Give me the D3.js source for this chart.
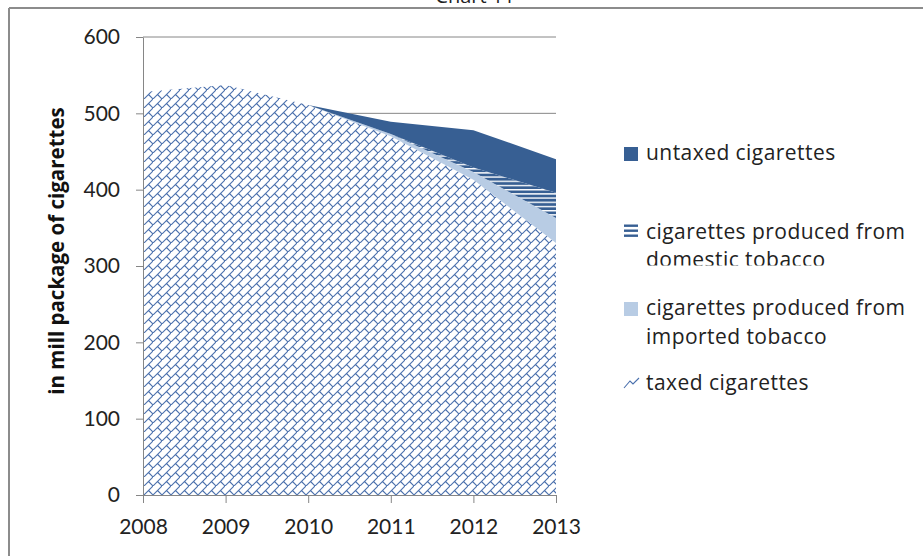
<!DOCTYPE html>
<html><head><meta charset="utf-8">
<script src="https://cdn.jsdelivr.net/npm/d3@7"></script>
<style>body{margin:0;background:#fff} svg{display:block}</style>
</head><body>
<svg id="chart" width="923" height="556"></svg>
<script>
// Cigarette consumption by source, in million packages
const years = [2008, 2009, 2010, 2011, 2012, 2013];
const taxed = [528, 537, 511, 470, 413, 330];
const imported = [0, 0, 0, 3, 10, 33];
const domestic = [0, 0, 0, 0, 6, 33];
const untaxed = [0, 0, 0, 16, 49, 44];
const yTicks = [0, 100, 200, 300, 400, 500, 600];
const seriesKeys = ["taxed", "imported", "domestic", "untaxed"];
const legendItems = [
  { key: "untaxed", lines: ["untaxed cigarettes"] },
  { key: "domestic", lines: ["cigarettes produced from", "domestic tobacco"] },
  { key: "imported", lines: ["cigarettes produced from", "imported tobacco"] },
  { key: "taxed", lines: ["taxed cigarettes"] }
];

const FONT = "Lato, 'Open Sans', sans-serif";
const LFONT = "'Open Sans', Lato, sans-serif";
const DARK = "#375f93", LIGHT = "#b8cce4", PAT = "#4a70ad", AXIS = "#868686";

const svg = d3.select("#chart");
const defs = svg.append("defs");

// diagonal brick hatch
const brick = defs.append("pattern").attr("id", "brick")
  .attr("patternUnits", "userSpaceOnUse").attr("width", 9).attr("height", 9);
brick.append("rect").attr("width", 9).attr("height", 9).attr("fill", "#fff");
brick.append("path").attr("d", "M-1,10 L10,-1 M4.5,4.5 L9,9 M-4.5,4.5 L0,9 M4.5,-4.5 L9,0")
  .attr("stroke", PAT).attr("stroke-width", 1.1).attr("fill", "none");

// horizontal stripes
const stripes = defs.append("pattern").attr("id", "stripes")
  .attr("patternUnits", "userSpaceOnUse").attr("width", 8).attr("height", 4.2);
stripes.append("rect").attr("width", 8).attr("height", 4.2).attr("fill", DARK);
stripes.append("rect").attr("y", 0).attr("width", 8).attr("height", 1.4).attr("fill", "#fff");

const fills = { taxed: "url(#brick)", imported: LIGHT, domestic: "url(#stripes)", untaxed: DARK };

const x = d3.scaleLinear().domain([2008, 2013]).range([143, 556]);
const y = d3.scaleLinear().domain([0, 600]).range([495, 37]);

// frame
svg.append("line").attr("x1", 9).attr("x2", 923).attr("y1", 8).attr("y2", 8)
  .attr("stroke", "#8c8c8c").attr("stroke-width", 2);
svg.append("line").attr("x1", 9).attr("x2", 9).attr("y1", 8).attr("y2", 556)
  .attr("stroke", "#8c8c8c").attr("stroke-width", 2);

svg.append("text").attr("x", 475).attr("y", 3).attr("text-anchor", "middle")
  .attr("font-family", LFONT).attr("font-size", 20).attr("fill", "#222").text("Chart 11");

// gridlines
svg.append("g").selectAll("line").data(yTicks).join("line")
  .attr("x1", x(2008)).attr("x2", x(2013))
  .attr("y1", d => y(d)).attr("y2", d => y(d))
  .attr("stroke", AXIS).attr("stroke-width", 1);

// stacked areas
const rows = years.map((yr, i) => ({
  year: yr, taxed: taxed[i], imported: imported[i], domestic: domestic[i], untaxed: untaxed[i]
}));
const stacked = d3.stack().keys(seriesKeys)(rows);
const area = d3.area().x(d => x(d.data.year)).y0(d => y(d[0])).y1(d => y(d[1]));
svg.append("g").selectAll("path").data(stacked).join("path")
  .attr("d", area).attr("fill", d => fills[d.key]);

// axes
const yAxis = svg.append("g").attr("transform", `translate(${x(2008)},0)`)
  .call(d3.axisLeft(y).tickValues(yTicks).tickSize(7).tickSizeOuter(0).tickPadding(16));
const xAxis = svg.append("g").attr("transform", `translate(0,${y(0)})`)
  .call(d3.axisBottom(x).tickValues(years).tickFormat(d3.format("d")).tickSize(8).tickSizeOuter(0).tickPadding(16));
[yAxis, xAxis].forEach(g => {
  g.selectAll("path,line").attr("stroke", AXIS);
  g.selectAll("text").attr("font-family", FONT).attr("font-size", 21).attr("fill", "#222");
});

svg.append("text").attr("transform", "translate(64,251) rotate(-90)")
  .attr("text-anchor", "middle").attr("font-family", LFONT).attr("font-weight", "bold")
  .attr("font-size", 20.5).attr("fill", "#111").text("in mill package of cigarettes");

// legend
const legendTop = { untaxed: 160, domestic: 238.5, imported: 315, taxed: 390 };
defs.append("clipPath").attr("id", "legclip").append("rect")
  .attr("x", 0).attr("y", 0).attr("width", 923).attr("height", 265.5);
const leg = svg.append("g").attr("font-family", LFONT).attr("font-size", 21)
  .attr("letter-spacing", 0.45).attr("fill", "#222");
legendItems.forEach(item => {
  const base = legendTop[item.key];
  const t = leg.append("text").attr("x", 646).attr("y", base)
    .attr("clip-path", item.key === "domestic" ? "url(#legclip)" : null);
  item.lines.forEach((ln, i) => t.append("tspan").attr("x", 646).attr("y", base + i * 28.5).text(ln));
  if (item.key === "untaxed" || item.key === "imported") {
    leg.append("rect").attr("x", 624).attr("y", base - 13).attr("width", 14).attr("height", 14)
      .attr("fill", fills[item.key]);
  } else if (item.key === "domestic") {
    [0, 5, 10].forEach(o => leg.append("rect").attr("x", 624).attr("y", base - 14 + o)
      .attr("width", 14).attr("height", 2.4).attr("fill", DARK));
  } else {
    leg.append("path").attr("d", `M624,${base - 2} L630,${base - 9} L633,${base - 6} L639,${base - 12}`)
      .attr("fill", "none").attr("stroke", PAT).attr("stroke-width", 1.1);
  }
});
</script>
</body></html>
